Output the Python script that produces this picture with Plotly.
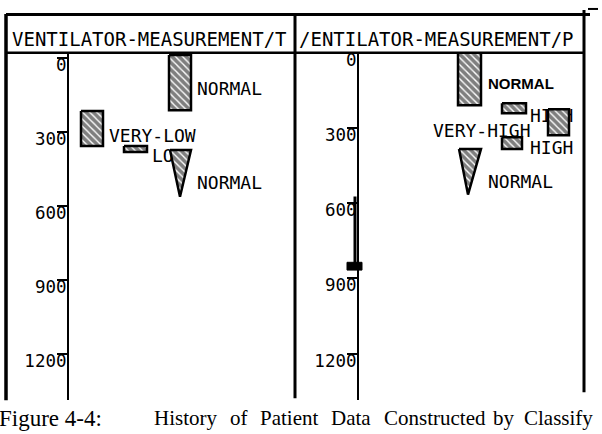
import plotly.graph_objects as go

W, H = 602, 434

# ---------------- data ----------------
ticks = [0, 300, 600, 900, 1200]
tick_text = ["0", "300", "600", "900", "1200"]

# Left panel: VENTILATOR-MEASUREMENT/T  (x = level position, t = time)
T_rect_x0 = [100, 12, 55]
T_rect_x1 = [122, 34, 78]
T_rect_t0 = [-10, 217, 358]
T_rect_t1 = [213, 358, 383]
T_tri_x0, T_tri_x1, T_tri_apex = [101], [122], [111]
T_tri_t0, T_tri_t1 = [375], [564]
T_labels = ["NORMAL", "VERY-LOW", "LOW", "NORMAL"]
T_label_x = [128, 40, 83, 128]
T_label_t = [133, 326, 407, 515]

# Right panel: VENTILATOR-MEASUREMENT/P
P_rect_x0 = [100, 144, 190, 144]
P_rect_x1 = [123, 168, 211, 164]
P_rect_t0 = [0, 202, 226, 337]
P_rect_t1 = [210, 242, 329, 384]
P_tri_x0, P_tri_x1, P_tri_apex = [101], [123], [110]
P_tri_t0, P_tri_t1 = [384], [566]
P_labels = ["NORMAL", "HIGH", "VERY-HIGH", "HIGH", "NORMAL"]
P_label_x = [130, 172, 75, 172, 130]
P_label_t = [131, 257, 317, 388, 523]
P_line_x = [-3]
P_line_t0, P_line_t1 = [574], [851]
P_end_x0, P_end_x1 = [-11], [4]
P_end_t0, P_end_t1 = [836], [867]

caption_head = "Figure 4-4:"
caption_words = ["History", "of", "Patient", "Data", "Constructed", "by", "Classify"]

# ---------------- helpers ----------------
def px(x):
    return x / W

def py(y):
    return 1 - y / H

MONO = "DejaVu Sans Mono"
pattern = dict(shape="\\", fgcolor="black", bgcolor="white", size=5, solidity=0.72)

fig = go.Figure()

def rect(x0, x1, t0, t1, xa, ya):
    fig.add_trace(go.Scatter(
        x=[x0, x1, x1, x0, x0], y=[t0, t0, t1, t1, t0],
        mode="lines", fill="toself", fillpattern=pattern, fillcolor="white",
        line=dict(color="black", width=2.5), xaxis=xa, yaxis=ya,
        showlegend=False, hoverinfo="skip"))

def tri(x0, x1, xa_, t0, t1, xa, ya):
    fig.add_trace(go.Scatter(
        x=[x0, x1, xa_, x0], y=[t0, t0, t1, t0],
        mode="lines", fill="toself", fillpattern=pattern, fillcolor="white",
        line=dict(color="black", width=2.5), xaxis=xa, yaxis=ya,
        showlegend=False, hoverinfo="skip"))

def label(txt, x, t, xa, ya, font):
    fig.add_trace(go.Scatter(
        x=[x], y=[t], mode="text", text=[txt], textposition="middle right",
        textfont=font, xaxis=xa, yaxis=ya, showlegend=False,
        hoverinfo="skip", cliponaxis=False))

lab_font = dict(family=MONO, size=18, color="black")
bold_font = dict(family="Liberation Sans", size=15, color="black", weight="bold")

# ---- left panel ----
for i in range(len(T_labels)):
    label(T_labels[i], T_label_x[i], T_label_t[i], "x", "y", lab_font)
for i in range(len(T_rect_x0)):
    rect(T_rect_x0[i], T_rect_x1[i], T_rect_t0[i], T_rect_t1[i], "x", "y")
for i in range(len(T_tri_x0)):
    tri(T_tri_x0[i], T_tri_x1[i], T_tri_apex[i], T_tri_t0[i], T_tri_t1[i], "x", "y")

# ---- right panel (draw order matters for overlaps) ----
label(P_labels[0], P_label_x[0], P_label_t[0], "x2", "y2", bold_font)
rect(P_rect_x0[0], P_rect_x1[0], P_rect_t0[0], P_rect_t1[0], "x2", "y2")
label(P_labels[1], P_label_x[1], P_label_t[1], "x2", "y2", lab_font)
rect(P_rect_x0[1], P_rect_x1[1], P_rect_t0[1], P_rect_t1[1], "x2", "y2")
rect(P_rect_x0[2], P_rect_x1[2], P_rect_t0[2], P_rect_t1[2], "x2", "y2")
label(P_labels[2], P_label_x[2], P_label_t[2], "x2", "y2", lab_font)
rect(P_rect_x0[3], P_rect_x1[3], P_rect_t0[3], P_rect_t1[3], "x2", "y2")
label(P_labels[3], P_label_x[3], P_label_t[3], "x2", "y2", lab_font)
label(P_labels[4], P_label_x[4], P_label_t[4], "x2", "y2", lab_font)
tri(P_tri_x0[0], P_tri_x1[0], P_tri_apex[0], P_tri_t0[0], P_tri_t1[0], "x2", "y2")
fig.add_trace(go.Scatter(
    x=[P_line_x[0], P_line_x[0]], y=[P_line_t0[0], P_line_t1[0]], mode="lines",
    line=dict(color="black", width=3), xaxis="x2", yaxis="y2",
    showlegend=False, hoverinfo="skip"))
fig.add_trace(go.Scatter(
    x=[P_end_x0[0], P_end_x1[0], P_end_x1[0], P_end_x0[0], P_end_x0[0]],
    y=[P_end_t0[0], P_end_t0[0], P_end_t1[0], P_end_t1[0], P_end_t0[0]],
    mode="lines", fill="toself", fillcolor="black", line=dict(color="black", width=1),
    xaxis="x2", yaxis="y2", showlegend=False, hoverinfo="skip"))

# ---------------- axes ----------------
ydom = [py(400), py(50)]
xcommon = dict(showline=False, showticklabels=False,
               showgrid=False, zeroline=False, ticks="")
ycommon = dict(showline=True, linecolor="black", linewidth=2, mirror=False,
               ticks="outside", ticklen=10, tickwidth=1.5, tickcolor="black",
               tickvals=ticks, ticktext=tick_text, showgrid=False, zeroline=False,
               tickfont=dict(family=MONO, size=17.5, color="black"),
               ticklabelshift=-7, ticklabelstandoff=-13)

fig.update_layout(
    width=W, height=H, margin=dict(l=0, r=0, t=0, b=0),
    paper_bgcolor="white", plot_bgcolor="rgba(0,0,0,0)",
    xaxis=dict(domain=[px(69), px(295)], anchor="y", range=[0, 226], **xcommon),
    xaxis2=dict(domain=[px(338), px(584)], anchor="y2", range=[-20, 226], **xcommon),
    yaxis=dict(domain=ydom, anchor="x", range=[1389, -20], **ycommon),
    yaxis2=dict(domain=ydom, anchor="free", position=px(358), range=[1386, 0], **ycommon),
)

# ---------------- frame ----------------
def line(x0, y0, x1, y1, w=3):
    fig.add_shape(type="line", xref="paper", yref="paper",
                  x0=px(x0), y0=py(y0), x1=px(x1), y1=py(y1),
                  line=dict(color="black", width=w))

line(6, 11.5, 590, 11.5, 3)
line(6, 11, 6, 400, 3.5)
line(6, 50, 584, 50, 2.5)
line(295, 11, 295, 398, 3)
line(584, 7, 584, 392, 3)
line(588, 6, 598, 6, 2)

fig.add_annotation(xref="paper", yref="paper", x=px(10), y=py(36),
                   xanchor="left", yanchor="middle", showarrow=False,
                   text="VENTILATOR-MEASUREMENT/T",
                   font=dict(family=MONO, size=19, color="black"))
fig.add_annotation(xref="paper", yref="paper", x=px(297), y=py(36),
                   xanchor="left", yanchor="middle", showarrow=False,
                   text="/ENTILATOR-MEASUREMENT/P",
                   font=dict(family=MONO, size=19, color="black"))

# caption (justified words)
cap_font = dict(family="Liberation Serif", size=21, color="black")
fig.add_annotation(xref="paper", yref="paper", x=px(-3), y=py(418),
                   xanchor="left", yanchor="middle", showarrow=False,
                   text=caption_head, font=dict(family="Liberation Serif", size=23, color="black"))
word_x = [152, 228, 258, 329, 382, 491, 522]
for w, x in zip(caption_words, word_x):
    fig.add_annotation(xref="paper", yref="paper", x=px(x), y=py(418),
                       xanchor="left", yanchor="middle", showarrow=False,
                       text=w, font=cap_font)

fig.write_html("out.html")
